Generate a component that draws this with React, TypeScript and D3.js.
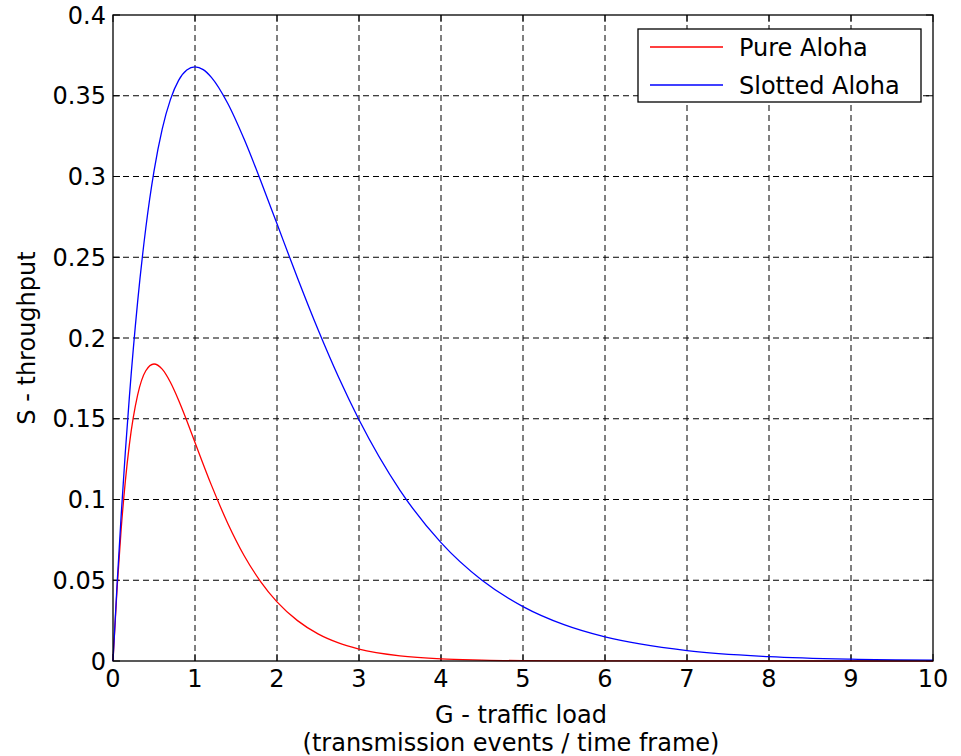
import React from "react";
import * as d3 from "d3";

const G_PURE = [0, 0.05, 0.1, 0.15, 0.2, 0.3, 0.4, 0.5, 0.6, 0.7, 0.8, 0.9, 1.0, 1.2, 1.4, 1.6, 1.8, 2.0, 2.25, 2.5, 2.75, 3.0, 3.5, 4.0, 4.5, 5.0, 6.0, 7.0, 8.0, 9.0, 10.0];
const S_PURE = [0, 0.0452, 0.0819, 0.1111, 0.1341, 0.1646, 0.1797, 0.1839, 0.1807, 0.1726, 0.1615, 0.1488, 0.1353, 0.1089, 0.0852, 0.0652, 0.0492, 0.0366, 0.0250, 0.0168, 0.0112, 0.0074, 0.0032, 0.0013, 0.0006, 0.0002, 0.0001, 0, 0, 0, 0];

const G_SLOTTED = [0, 0.05, 0.1, 0.15, 0.2, 0.3, 0.4, 0.5, 0.6, 0.7, 0.8, 0.9, 1.0, 1.1, 1.2, 1.4, 1.6, 1.8, 2.0, 2.25, 2.5, 2.75, 3.0, 3.5, 4.0, 4.5, 5.0, 5.5, 6.0, 7.0, 8.0, 9.0, 10.0];
const S_SLOTTED = [0, 0.0476, 0.0905, 0.1291, 0.1637, 0.2222, 0.2681, 0.3033, 0.3293, 0.3476, 0.3595, 0.3659, 0.3679, 0.3662, 0.3614, 0.3452, 0.3230, 0.2975, 0.2707, 0.2371, 0.2052, 0.1758, 0.1494, 0.1057, 0.0733, 0.0500, 0.0337, 0.0225, 0.0149, 0.0064, 0.0027, 0.0011, 0.0005];

const X_TICKS = [0, 1, 2, 3, 4, 5, 6, 7, 8, 9, 10];
const Y_TICKS = [0, 0.05, 0.1, 0.15, 0.2, 0.25, 0.3, 0.35, 0.4];
const Y_TICK_LABELS = ["0", "0.05", "0.1", "0.15", "0.2", "0.25", "0.3", "0.35", "0.4"];

const SERIES_NAMES = ["Pure Aloha", "Slotted Aloha"];
const SERIES_COLORS = ["#ff0000", "#0000ff"];

export default function App() {
  const W = 961, H = 756;
  const left = 113, right = 933, top = 15, bottom = 661;
  const x = d3.scaleLinear().domain([0, 10]).range([left, right]);
  const y = d3.scaleLinear().domain([0, 0.4]).range([bottom, top]);
  const font = "'DejaVu Sans', sans-serif";
  const fs = 24;

  const line = d3.line<[number, number]>()
    .x(d => x(d[0]))
    .y(d => y(d[1]))
    .curve(d3.curveMonotoneX);

  const pure = G_PURE.map((g, i) => [g, S_PURE[i]] as [number, number]);
  const slotted = G_SLOTTED.map((g, i) => [g, S_SLOTTED[i]] as [number, number]);
  const series = [pure, slotted];

  const tickLen = 7;

  return (
    <svg width={W} height={H} style={{ position: "absolute", left: 0, top: 0, background: "#fff" }} fontFamily={font}>
      <rect x={0} y={0} width={W} height={H} fill="#fff" />
      {X_TICKS.slice(1, -1).map(t => (
        <line key={"gx" + t} x1={x(t)} x2={x(t)} y1={top} y2={bottom} stroke="#000" strokeWidth={1} strokeDasharray="6,4" />
      ))}
      {Y_TICKS.slice(1, -1).map(t => (
        <line key={"gy" + t} x1={left} x2={right} y1={y(t)} y2={y(t)} stroke="#000" strokeWidth={1} strokeDasharray="6,4" />
      ))}
      {X_TICKS.map(t => (
        <g key={"tx" + t}>
          <line x1={x(t)} x2={x(t)} y1={bottom} y2={bottom - tickLen} stroke="#000" strokeWidth={1} />
          <line x1={x(t)} x2={x(t)} y1={top} y2={top + tickLen} stroke="#000" strokeWidth={1} />
        </g>
      ))}
      {Y_TICKS.map(t => (
        <g key={"ty" + t}>
          <line x1={left} x2={left + tickLen} y1={y(t)} y2={y(t)} stroke="#000" strokeWidth={1} />
          <line x1={right} x2={right - tickLen} y1={y(t)} y2={y(t)} stroke="#000" strokeWidth={1} />
        </g>
      ))}
      {series.map((s, i) => (
        <path key={"s" + i} d={line(s) || ""} fill="none" stroke={SERIES_COLORS[i]} strokeWidth={1.3} />
      ))}
      <rect x={left} y={top} width={right - left} height={bottom - top} fill="none" stroke="#000" strokeWidth={1.3} />
      {X_TICKS.map(t => (
        <text key={"lx" + t} x={x(t)} y={bottom + 26} textAnchor="middle" fontSize={fs} fill="#000">{t}</text>
      ))}
      {Y_TICKS.map((t, i) => (
        <text key={"ly" + t} x={left - 7} y={y(t) + 8.5} textAnchor="end" fontSize={fs} fill="#000">{Y_TICK_LABELS[i]}</text>
      ))}
      <text x={521} y={723} textAnchor="middle" fontSize={fs} fill="#000">G - traffic load</text>
      <text x={511} y={751} textAnchor="middle" fontSize={fs} fill="#000">(transmission events / time frame)</text>
      <text transform={`translate(35, ${(top + bottom) / 2}) rotate(-90)`} textAnchor="middle" fontSize={fs} fill="#000">S - throughput</text>
      <g>
        <rect x={638} y={29} width={283} height={73} fill="#fff" stroke="#000" strokeWidth={1.3} />
        {SERIES_NAMES.map((n, i) => (
          <g key={"lg" + i}>
            <line x1={650} x2={723} y1={47 + i * 38} y2={47 + i * 38} stroke={SERIES_COLORS[i]} strokeWidth={1.3} />
            <text x={739} y={47 + i * 38 + 8.5} fontSize={fs} fill="#000">{n}</text>
          </g>
        ))}
      </g>
    </svg>
  );
}
